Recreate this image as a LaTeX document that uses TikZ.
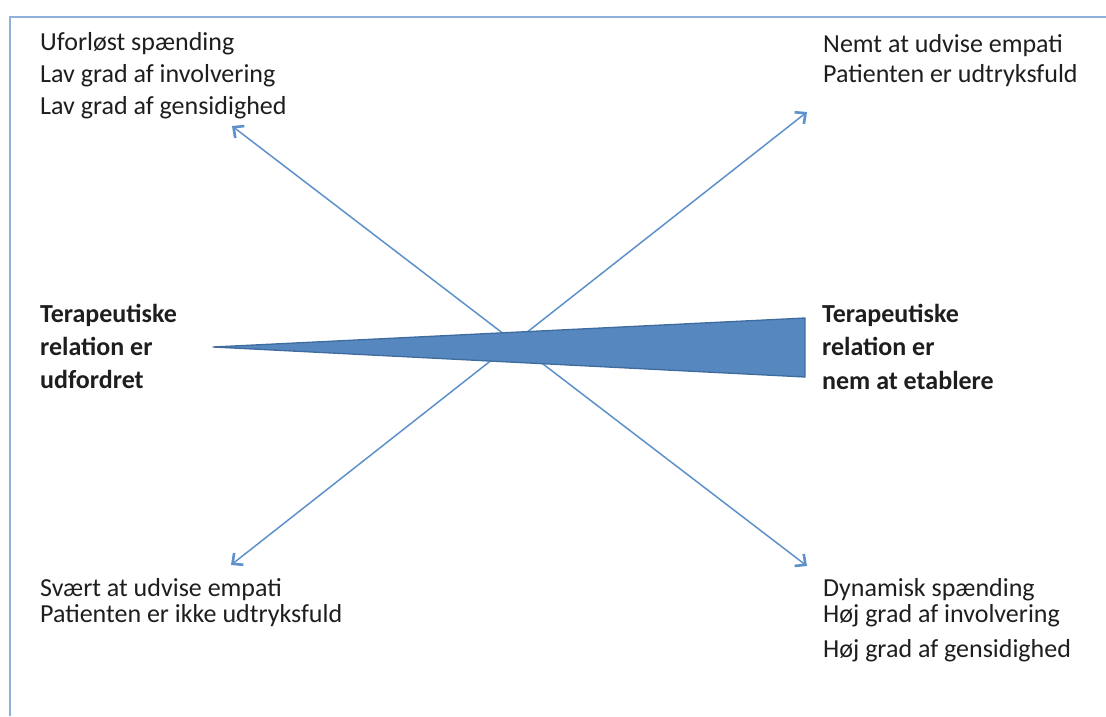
\documentclass[tikz,border=0pt]{standalone}
\usepackage{fontspec}
\setmainfont{Carlito}
\usetikzlibrary{arrows.meta}
\definecolor{frameblue}{HTML}{8EB1DC}
\definecolor{arrowblue}{HTML}{5E91CB}
\definecolor{wedgefill}{HTML}{5687BF}
\definecolor{wedgeline}{HTML}{3F6C9E}
\definecolor{txt}{HTML}{1E1E1E}
\begin{document}
\begin{tikzpicture}[x=1pt,y=-1pt,
  lbl/.style={anchor=base west,inner sep=0pt,text=txt,font=\fontsize{26}{30}\selectfont},
  blbl/.style={lbl,font=\fontsize{26}{30}\selectfont\bfseries},
  conn/.style={draw=arrowblue,line width=1.5pt,{Straight Barb[length=8pt,width=15pt,line width=2.6pt]}-{Straight Barb[length=8pt,width=15pt,line width=2.6pt]}},
  frame/.style={draw=frameblue,line width=2pt}]
\useasboundingbox (0,0) rectangle (1106,716);
% frame
\coordinate (f1) at (10,716);
\coordinate (f2) at (10,17);
\coordinate (f3) at (1106,17);
\draw[frame] (f1) -- (f2) -- (f3);
% arrows
\coordinate (tl) at (232,126);
\coordinate (br) at (807,566);
\coordinate (bl) at (231,565);
\coordinate (tr) at (807,112);
\draw[conn] (tl) -- (br);
\draw[conn] (bl) -- (tr);
% wedge
\coordinate (wtip) at (213,347);
\coordinate (wtop) at (805,318);
\coordinate (wbot) at (805,377);
\draw[fill=wedgefill,draw=wedgeline,line width=1.3pt,line join=round] (wtip) -- (wtop) -- (wbot) -- cycle;
% top-left
\node[lbl] (tl1) at (40,50) {Uforløst spænding};
\node[lbl] (tl2) at (40,82) {Lav grad af involvering};
\node[lbl] (tl3) at (40,114) {Lav grad af gensidighed};
% top-right
\node[lbl] (tr1) at (823,52) {Nemt at udvise empati};
\node[lbl] (tr2) at (823,82) {Patienten er udtryksfuld};
% left bold
\node[blbl] (l1) at (40,322) {Terapeutiske};
\node[blbl] (l2) at (40,355) {relation er};
\node[blbl] (l3) at (40,388) {udfordret};
% right bold
\node[blbl] (r1) at (822,322) {Terapeutiske};
\node[blbl] (r2) at (822,355) {relation er};
\node[blbl] (r3) at (822,389) {nem at etablere};
% bottom-left
\node[lbl] (bl1) at (40,596) {Svært at udvise empati};
\node[lbl] (bl2) at (40,622) {Patienten er ikke udtryksfuld};
% bottom-right
\node[lbl] (br1) at (823,596) {Dynamisk spænding};
\node[lbl] (br2) at (823,622) {Høj grad af involvering};
\node[lbl] (br3) at (823,657) {Høj grad af gensidighed};
\end{tikzpicture}
\end{document}
